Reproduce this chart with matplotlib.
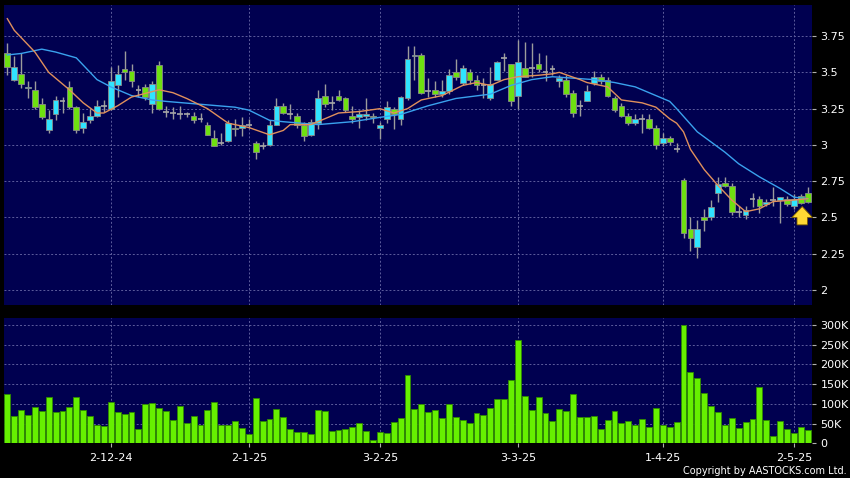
import matplotlib
matplotlib.use('Agg')
import matplotlib.pyplot as plt

# daily candles, 11-Nov-2024 .. 7-May-2025 (index = trading day)
opens = [3.63, 3.45, 3.49, 3.39, 3.38, 3.28, 3.10, 3.21, 3.30, 3.40,
         3.26, 3.12, 3.17, 3.20, 3.27, 3.25, 3.41, 3.52, 3.51, 3.38,
         3.40, 3.28, 3.55, 3.23, 3.22, 3.21, 3.21, 3.20, 3.18, 3.14,
         3.05, 3.01, 3.03, 3.12, 3.12, 3.14, 3.01, 2.99, 3.00, 3.14,
         3.27, 3.21, 3.20, 3.14, 3.07, 3.15, 3.34, 3.29, 3.34, 3.32,
         3.20, 3.19, 3.20, 3.20, 3.12, 3.18, 3.25, 3.18, 3.32, 3.61,
         3.62, 3.37, 3.38, 3.35, 3.37, 3.50, 3.43, 3.50, 3.45, 3.41,
         3.32, 3.45, 3.60, 3.56, 3.34, 3.53, 3.53, 3.56, 3.50, 3.52,
         3.44, 3.45, 3.36, 3.27, 3.30, 3.43, 3.47, 3.45, 3.32, 3.27,
         3.20, 3.15, 3.18, 3.18, 3.12, 3.01, 3.05, 2.97, 2.76, 2.42,
         2.30, 2.50, 2.50, 2.67, 2.74, 2.72, 2.54, 2.52, 2.63, 2.63,
         2.59, 2.62, 2.62, 2.63, 2.58, 2.65, 2.67]
closes = [3.54, 3.54, 3.42, 3.40, 3.26, 3.19, 3.18, 3.31, 3.30, 3.26,
          3.10, 3.16, 3.20, 3.27, 3.27, 3.44, 3.49, 3.50, 3.44, 3.38,
          3.33, 3.42, 3.25, 3.23, 3.22, 3.21, 3.21, 3.17, 3.18, 3.07,
          2.99, 3.01, 3.15, 3.11, 3.14, 3.14, 2.95, 2.99, 3.14, 3.27,
          3.22, 3.21, 3.14, 3.06, 3.16, 3.32, 3.28, 3.29, 3.31, 3.24,
          3.18, 3.21, 3.21, 3.19, 3.14, 3.26, 3.21, 3.33, 3.59, 3.62,
          3.36, 3.37, 3.35, 3.37, 3.48, 3.47, 3.53, 3.45, 3.41, 3.41,
          3.42, 3.57, 3.60, 3.30, 3.57, 3.47, 3.53, 3.52, 3.50, 3.52,
          3.46, 3.35, 3.22, 3.27, 3.37, 3.47, 3.44, 3.34, 3.24, 3.20,
          3.15, 3.18, 3.18, 3.12, 3.00, 3.05, 3.02, 2.97, 2.39, 2.36,
          2.42, 2.48, 2.57, 2.73, 2.72, 2.54, 2.54, 2.55, 2.63, 2.58,
          2.61, 2.62, 2.64, 2.59, 2.63, 2.60, 2.61]
highs = [3.70, 3.61, 3.63, 3.44, 3.44, 3.32, 3.24, 3.34, 3.33, 3.44,
         3.27, 3.22, 3.25, 3.31, 3.31, 3.54, 3.55, 3.65, 3.56, 3.41,
         3.42, 3.44, 3.58, 3.27, 3.26, 3.27, 3.23, 3.23, 3.22, 3.16,
         3.10, 3.08, 3.17, 3.18, 3.19, 3.18, 3.03, 3.02, 3.17, 3.32,
         3.29, 3.28, 3.22, 3.16, 3.18, 3.38, 3.42, 3.34, 3.38, 3.33,
         3.27, 3.24, 3.32, 3.22, 3.16, 3.30, 3.26, 3.34, 3.68, 3.68,
         3.63, 3.46, 3.44, 3.45, 3.52, 3.59, 3.55, 3.52, 3.48, 3.46,
         3.54, 3.58, 3.63, 3.56, 3.72, 3.71, 3.70, 3.63, 3.62, 3.55,
         3.48, 3.48, 3.38, 3.31, 3.41, 3.51, 3.49, 3.47, 3.34, 3.29,
         3.22, 3.21, 3.21, 3.21, 3.14, 3.08, 3.06, 3.01, 2.77, 2.50,
         2.48, 2.56, 2.62, 2.78, 2.78, 2.74, 2.58, 2.58, 2.67, 2.65,
         2.63, 2.71, 2.64, 2.65, 2.66, 2.66, 2.71]
lows = [3.48, 3.44, 3.39, 3.32, 3.25, 3.18, 3.08, 3.17, 3.22, 3.25,
        3.08, 3.08, 3.15, 3.19, 3.23, 3.24, 3.33, 3.45, 3.40, 3.33,
        3.31, 3.22, 3.24, 3.19, 3.18, 3.18, 3.19, 3.15, 3.16, 3.07,
        2.99, 3.00, 3.02, 3.06, 3.06, 3.12, 2.90, 2.97, 2.99, 3.14,
        3.21, 3.18, 3.12, 3.03, 3.06, 3.11, 3.26, 3.24, 3.30, 3.23,
        3.15, 3.12, 3.17, 3.15, 3.04, 3.15, 3.11, 3.14, 3.31, 3.45,
        3.35, 3.33, 3.33, 3.33, 3.35, 3.45, 3.41, 3.42, 3.38, 3.32,
        3.31, 3.45, 3.51, 3.27, 3.25, 3.47, 3.47, 3.50, 3.44, 3.48,
        3.40, 3.33, 3.19, 3.20, 3.30, 3.41, 3.42, 3.33, 3.23, 3.19,
        3.14, 3.14, 3.08, 3.11, 2.97, 2.99, 3.00, 2.95, 2.36, 2.27,
        2.22, 2.41, 2.48, 2.61, 2.71, 2.52, 2.50, 2.49, 2.57, 2.53,
        2.58, 2.58, 2.46, 2.58, 2.56, 2.59, 2.60]
volumes_k = [125, 70, 86, 71, 92, 82, 118, 80, 83, 92,
             118, 85, 69, 48, 44, 106, 79, 75, 80, 36,
             100, 103, 89, 82, 59, 94, 51, 69, 47, 85,
             104, 47, 47, 56, 40, 25, 115, 58, 62, 87,
             67, 36, 30, 28, 25, 85, 82, 32, 35, 36,
             42, 52, 31, 10, 28, 26, 54, 64, 174, 87,
             101, 80, 85, 65, 100, 68, 59, 51, 76, 72,
             91, 112, 112, 162, 262, 121, 85, 118, 78, 57,
             88, 82, 125, 68, 66, 70, 37, 59, 81, 51,
             57, 46, 63, 41, 91, 46, 41, 55, 300, 182,
             167, 127, 95, 80, 46, 64, 39, 54, 63, 142,
             59, 19, 56, 37, 26, 41, 33]

# moving averages
ma_fast_idx = [0, 1, 4, 6, 9, 11, 13, 14, 16, 18, 22, 24, 26, 29, 32, 35, 38, 40,
               41, 44, 48, 51, 54, 56, 58, 60, 63, 66, 68, 70, 72, 74, 77, 79, 80,
               83, 84, 87, 89, 92, 94, 96, 97, 98, 99, 101, 103, 105, 107, 109,
               111, 114, 116]
ma_fast_val = [3.87, 3.79, 3.64, 3.50, 3.38, 3.29, 3.22, 3.22, 3.27, 3.33, 3.38,
               3.36, 3.32, 3.25, 3.15, 3.12, 3.07, 3.10, 3.14, 3.14, 3.22, 3.23,
               3.25, 3.22, 3.25, 3.31, 3.34, 3.41, 3.43, 3.41, 3.45, 3.47, 3.48,
               3.49, 3.50, 3.45, 3.43, 3.40, 3.31, 3.29, 3.26, 3.18, 3.15, 3.09,
               2.97, 2.83, 2.72, 2.62, 2.54, 2.56, 2.61, 2.62, 2.63]
ma_slow_idx = [0, 2, 5, 7, 10, 12, 13, 15, 18, 21, 23, 28, 33, 35, 38, 40, 45, 50,
               54, 57, 61, 65, 70, 73, 76, 79, 82, 85, 88, 91, 93, 96, 97, 100,
               104, 106, 109, 112, 114, 116]
ma_slow_val = [3.62, 3.63, 3.66, 3.64, 3.60, 3.50, 3.45, 3.40, 3.34, 3.31, 3.30,
               3.28, 3.26, 3.24, 3.17, 3.16, 3.14, 3.16, 3.19, 3.21, 3.27, 3.32,
               3.35, 3.41, 3.45, 3.47, 3.46, 3.45, 3.43, 3.40, 3.36, 3.30, 3.25,
               3.09, 2.95, 2.87, 2.78, 2.70, 2.64, 2.63]

date_tick_idx = [15, 35, 54, 74, 95, 114]
date_tick_labels = ['2-12-24', '2-1-25', '3-2-25', '3-3-25', '1-4-25', '2-5-25']
price_ticks = [2, 2.25, 2.5, 2.75, 3, 3.25, 3.5, 3.75]
price_tick_labels = ['2', '2.25', '2.5', '2.75', '3', '3.25', '3.5', '3.75']
vol_ticks = [0, 50, 100, 150, 200, 250, 300]
vol_tick_labels = ['0', '50K', '100K', '150K', '200K', '250K', '300K']

UP = '#30e4ff'
DOWN = '#6ee010'
FLAT = '#a8a8a8'
NAVY = '#000050'
GRID = '#5c5c9c'

fig = plt.figure(figsize=(8.5, 4.78), dpi=100, facecolor='black')
ax = fig.add_axes([0.0047, 0.3619, 0.9506, 0.6276])
axv = fig.add_axes([0.0047, 0.0722, 0.9506, 0.2626])

for a in (ax, axv):
    a.set_facecolor(NAVY)
    for s in a.spines.values():
        s.set_visible(False)
    a.set_xlim(-0.48, 116.62)
    a.set_xticks(date_tick_idx)
    a.grid(True, color=GRID, linestyle=(0, (2, 2)), linewidth=0.7)
    a.set_axisbelow(True)
    a.tick_params(axis='y', left=False, labelleft=False, right=True, labelright=True,
                  length=3, color='#b0b0b0', labelcolor='white', labelsize=8, pad=3)

# candles
n = len(opens)
for i in range(n):
    o, c = opens[i], closes[i]
    if c > o:
        col = UP
    elif c < o:
        col = DOWN
    else:
        col = FLAT
    ax.vlines(i, lows[i], highs[i], color='#9c9c9c', linewidth=1, zorder=2)
    if c == o:
        ax.hlines(o, i - 0.42, i + 0.42, color=FLAT, linewidth=1.2, zorder=3)
    else:
        ax.bar(i, abs(c - o), bottom=min(o, c), width=0.82, color=col,
               edgecolor='#8a8a8a', linewidth=0.6, zorder=3)

ax.plot(ma_slow_idx, ma_slow_val, color='#3aa2ee', linewidth=1, zorder=4)
ax.plot(ma_fast_idx, ma_fast_val, color='#e0905c', linewidth=1, zorder=4)

# marker arrow under the last sessions
ax.annotate('', xy=(115.2, 2.595), xytext=(115.2, 2.43),
            arrowprops=dict(arrowstyle='simple,head_width=1.5,head_length=0.8,tail_width=0.75',
                            fc='#ffd834', ec='#7a5c00', lw=0.6), zorder=5)

ax.set_ylim(1.897, 3.964)
ax.set_yticks(price_ticks)
ax.set_yticklabels(price_tick_labels)
ax.tick_params(axis='x', bottom=False, labelbottom=False)

axv.bar(range(n), volumes_k, width=0.86, color='#66f000', edgecolor='#2f8a00',
        linewidth=0.6, zorder=3)
axv.set_ylim(0, 317.8)
axv.set_yticks(vol_ticks)
axv.set_yticklabels(vol_tick_labels)
axv.set_xticklabels(date_tick_labels)
axv.tick_params(axis='x', bottom=True, length=3, color='#b0b0b0', labelcolor='white',
                labelsize=8, pad=4)

fig.text(0.996, 0.004, 'Copyright by AASTOCKS.com Ltd.', color='white', fontsize=7,
         ha='right', va='bottom')

fig.savefig('out.png', dpi=100, facecolor='black')
